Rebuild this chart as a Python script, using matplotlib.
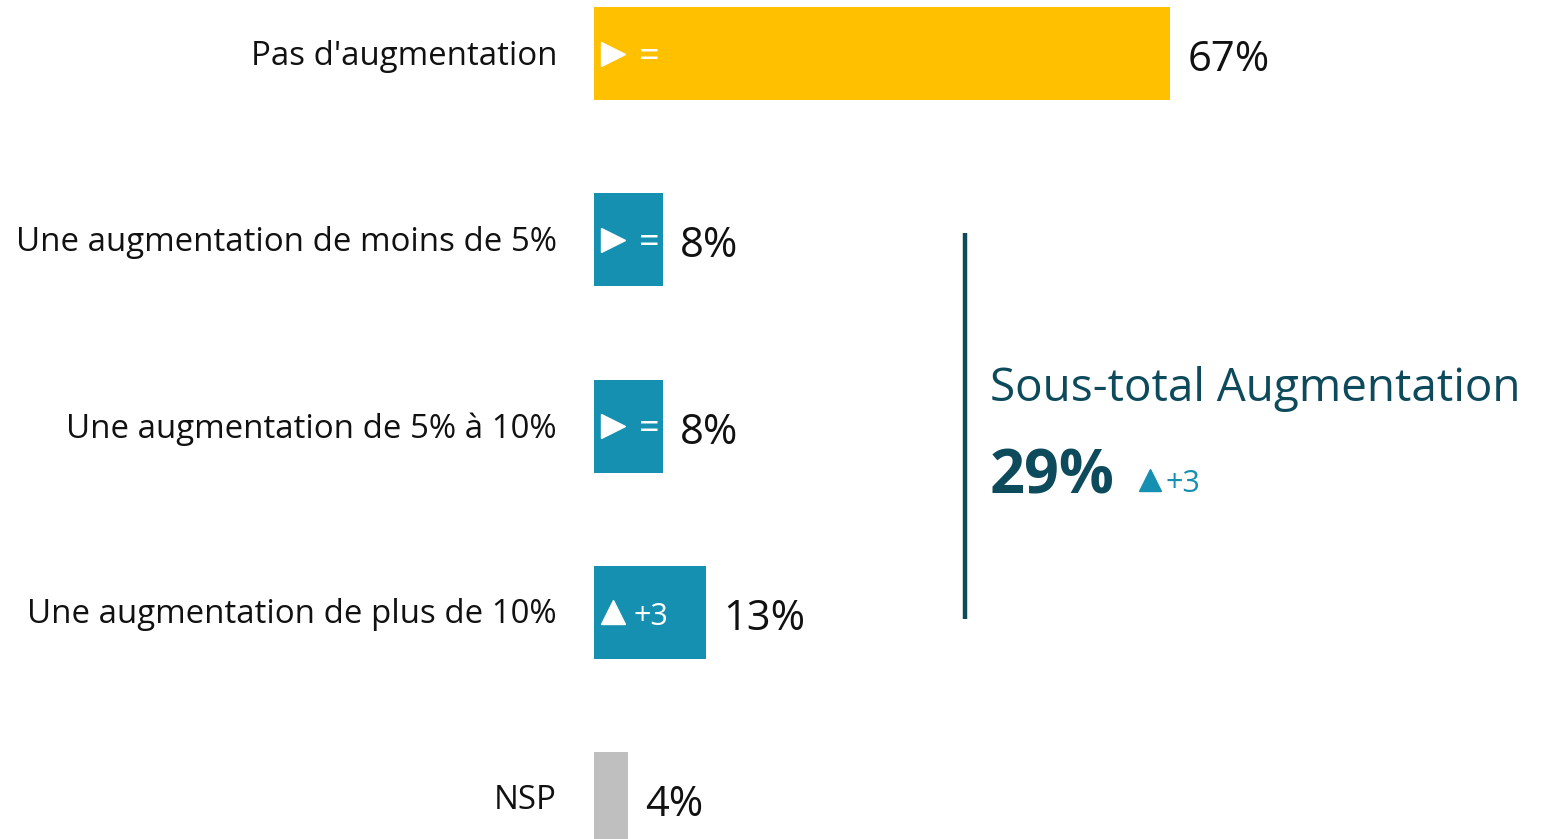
import matplotlib
matplotlib.use("Agg")
import matplotlib.pyplot as plt
from matplotlib.transforms import offset_copy

categories = ["Pas d'augmentation", "Une augmentation de moins de 5%",
              "Une augmentation de 5% à 10%", "Une augmentation de plus de 10%", "NSP"]
values = [67, 8, 8, 13, 4]
trend_marks = [">", ">", ">", "^", None]
trend_texts = ["=", "=", "=", "+3", None]
subtotal_label = "Sous-total Augmentation"
subtotal_value = 29
subtotal_trend = "+3"

YELLOW = "#FFC000"
TEAL = "#1590B0"
GREY = "#BFBFBF"
DARK = "#0D4A5B"
INK = "#111111"

plt.rcParams["font.family"] = ["Open Sans", "DejaVu Sans"]

colors = [YELLOW, TEAL, TEAL, TEAL, GREY]

fig = plt.figure(figsize=(15.42, 8.39), dpi=100)
ax = fig.add_axes([0, 0, 1, 1])
ax.set_xlim(-69.07, 110.23)
ax.set_ylim(4.22, -0.29)
ax.axis("off")

ys = list(range(len(categories)))
ax.barh(ys, values, height=0.5, color=colors, zorder=2)

for y, cat, v, mk, tt in zip(ys, categories, values, trend_marks, trend_texts):
    ax.text(-4.3, y + 0.015, cat, ha="right", va="center", fontsize=23.8, color=INK)
    ax.text(v + 2.0, y + 0.035, f"{v}%", ha="left", va="center", fontsize=30, color=INK)
    if mk is None:
        continue
    ax.plot([0], [y], marker=mk, markersize=17, color="white", linestyle="none",
            transform=offset_copy(ax.transData, fig=fig, x=14, y=0, units="points"), zorder=3)
    if tt == "=":
        ax.text(6.4, y + 0.02, tt, ha="center", va="center", fontsize=26,
                color="white", zorder=3)
    else:
        ax.text(4.6, y + 0.025, tt, ha="left", va="center", fontsize=22,
                color="white", zorder=3)

# subtotal bracket
ax.plot([43.1, 43.1], [0.962, 3.04], color=DARK, linewidth=3.2, solid_capstyle="butt")
ax.text(46.0, 1.8, subtotal_label, ha="left", va="center", fontsize=33, color=DARK)
ax.text(46.0, 2.28, f"{subtotal_value}%", ha="left", va="center", fontsize=44,
        fontweight="bold", color=DARK)
ax.plot([64.6], [2.29], marker="^", markersize=16, color=TEAL, linestyle="none")
ax.text(66.5, 2.31, subtotal_trend, ha="left", va="center", fontsize=22, color=TEAL)

fig.savefig("out.png", dpi=100)
